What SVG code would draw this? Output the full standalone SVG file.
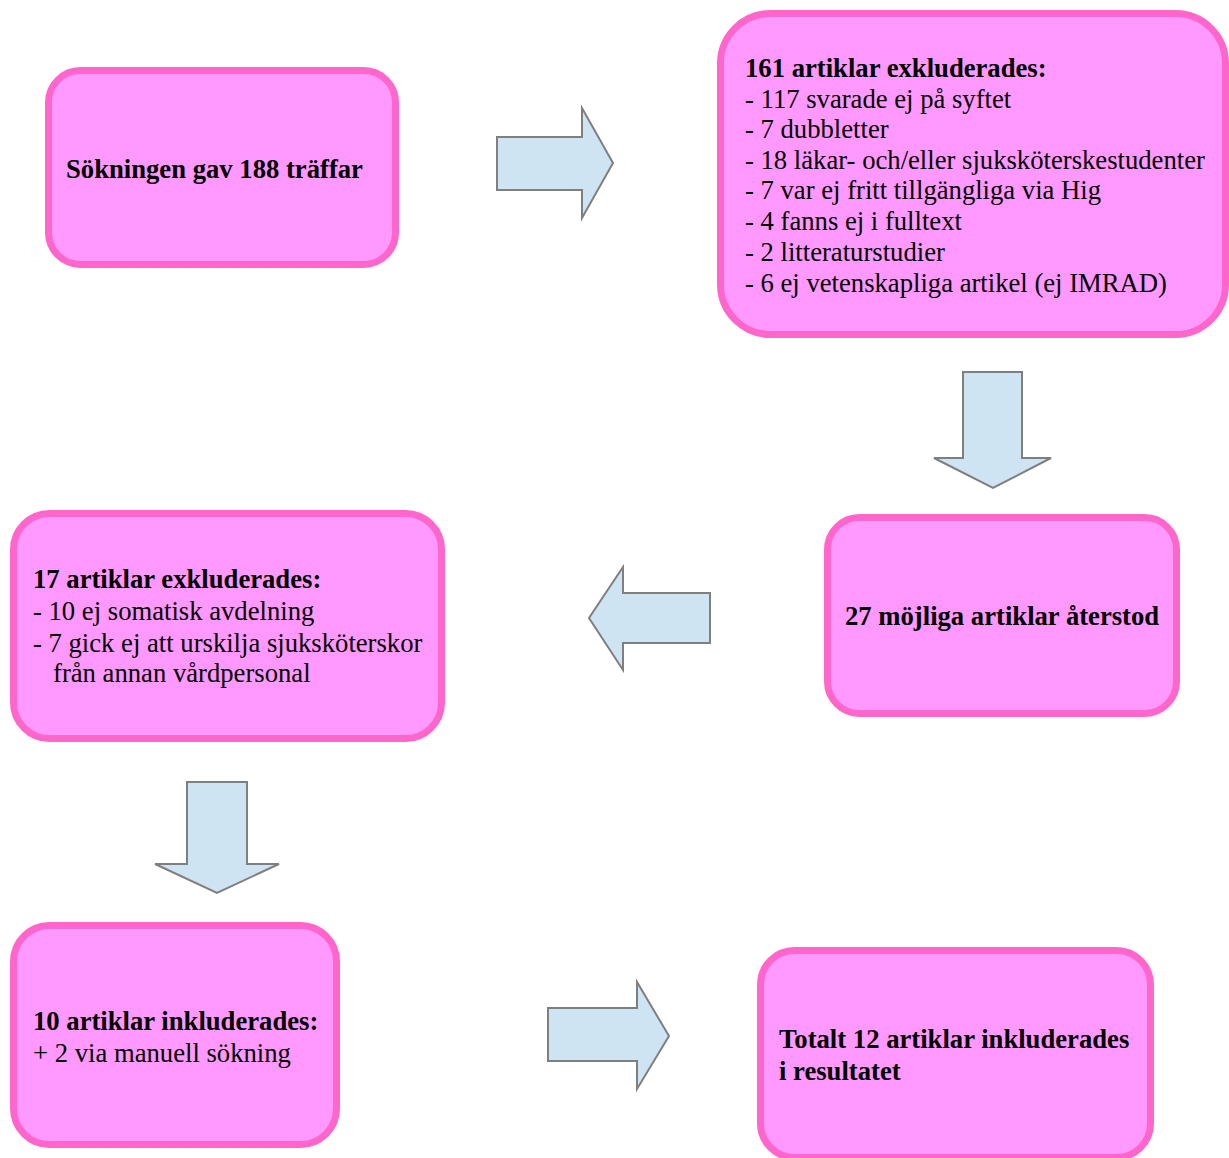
<svg xmlns="http://www.w3.org/2000/svg" width="1229" height="1158" viewBox="0 0 1229 1158">
<style>
.box{fill:#ff99ff;stroke:#ff66cc;stroke-width:7}
.arr{fill:#cfe4f3;stroke:#7f7f7f;stroke-width:2;stroke-linejoin:miter}
text{font-family:"Liberation Serif","Times New Roman",serif;font-size:26.67px;fill:#000}
.b{font-weight:bold}
</style>
<rect width="1229" height="1158" fill="#ffffff"/>
<g id="connectors">
<polygon class="arr" points="497,137 582,137 582,108 613,163 582,218 582,190 497,190"/>
<polygon class="arr" points="963,372 1022,372 1022,458 1051,458 993,488 934,458 963,458"/>
<polygon class="arr" points="710,593 623,593 623,567 589,618 623,670 623,643 710,643"/>
<polygon class="arr" points="187,782 247,782 247,864 279,864 217,893 155,864 187,864"/>
<polygon class="arr" points="548,1008 637,1008 637,982 669,1036 637,1089 637,1061 548,1061"/>
</g>
<g id="node1">
<rect class="box" x="48.5" y="70.5" width="347" height="194" rx="32" ry="32"/>
<text class="b" x="66" y="178">Sökningen gav 188 träffar</text>
</g>
<g id="node2">
<rect class="box" x="720.5" y="13.5" width="505" height="321" rx="50" ry="50"/>
<text x="745" y="77"><tspan class="b">161 artiklar exkluderades:</tspan><tspan x="745" y="108">- 117 svarade ej på syftet</tspan><tspan x="745" y="138">- 7 dubbletter</tspan><tspan x="745" y="169">- 18 läkar- och/eller sjuksköterskestudenter</tspan><tspan x="745" y="199">- 7 var ej fritt tillgängliga via Hig</tspan><tspan x="745" y="230">- 4 fanns ej i fulltext</tspan><tspan x="745" y="261">- 2 litteraturstudier</tspan><tspan x="745" y="292">- 6 ej vetenskapliga artikel (ej IMRAD)</tspan></text>
</g>
<g id="node3">
<rect class="box" x="827.5" y="517.5" width="349" height="196" rx="32" ry="32"/>
<text class="b" x="845" y="625">27 möjliga artiklar återstod</text>
</g>
<g id="node4">
<rect class="box" x="13.5" y="513.5" width="428" height="225" rx="36" ry="36"/>
<text x="33" y="588"><tspan class="b">17 artiklar exkluderades:</tspan><tspan x="33" y="620">- 10 ej somatisk avdelning</tspan><tspan x="33" y="652">- 7 gick ej att urskilja sjuksköterskor</tspan><tspan x="53" y="682">från annan vårdpersonal</tspan></text>
</g>
<g id="node5">
<rect class="box" x="13.5" y="925.5" width="323" height="219" rx="36" ry="36"/>
<text x="33" y="1030"><tspan class="b">10 artiklar inkluderades:</tspan><tspan x="33" y="1062">+ 2 via manuell sökning</tspan></text>
</g>
<g id="node6">
<rect class="box" x="760.5" y="950.5" width="390" height="207" rx="34" ry="34"/>
<text class="b" x="779" y="1048">Totalt 12 artiklar inkluderades<tspan x="779" y="1080">i resultatet</tspan></text>
</g>
</svg>
